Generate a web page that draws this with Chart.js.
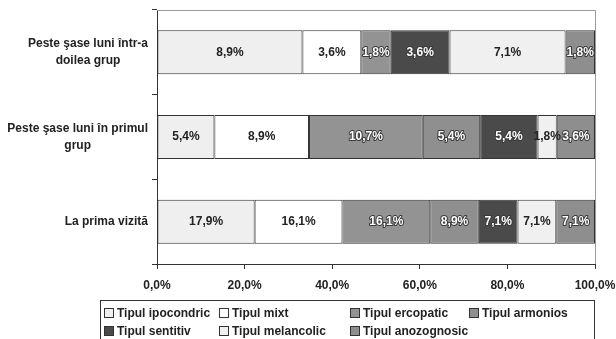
<!DOCTYPE html>
<html lang="ro">
<head>
<meta charset="utf-8">
<script src="https://cdn.jsdelivr.net/npm/chart.js@4/dist/chart.umd.min.js"></script>
<style>
  html, body { margin: 0; padding: 0; background: #fff; }
  #wrap { position: relative; width: 616px; height: 339px; overflow: hidden; }
  canvas { position: absolute; left: 0; top: 0; }
  #legend {
    position: absolute; left: 100px; top: 300px; width: 495px; height: 50px;
    border: 1px solid #333; box-sizing: border-box;
    font: bold 12px "Liberation Sans", Arial, sans-serif; color: #222;
  }
  .item { position: absolute; white-space: nowrap; line-height: 14px; }
  .sw { display: inline-block; width: 8px; height: 8px; border: 1px solid #333;
        margin-right: 3px; vertical-align: -1px; }
</style>
</head>
<body>
<div id="wrap">
  <canvas id="chart" width="616" height="339"></canvas>
  <div id="legend"></div>
</div>
<script>
// Groups (top to bottom) and percentage of patients per personality type
const categories = [
  ["Peste şase luni într-a", "doilea grup"],
  ["Peste şase luni în primul", "grup"],
  ["La prima vizită"]
];
const seriesNames = [
  "Tipul ipocondric", "Tipul mixt", "Tipul ercopatic", "Tipul armonios",
  "Tipul sentitiv", "Tipul melancolic", "Tipul anozognosic"
];
const ipocondric  = [8.9, 5.4, 17.9];
const mixt        = [3.6, 8.9, 16.1];
const ercopatic   = [1.8, 10.7, 16.1];
const armonios    = [null, 5.4, 8.9];
const sentitiv    = [3.6, 5.4, 7.1];
const melancolic  = [7.1, 1.8, 7.1];
const anozognosic = [1.8, 3.6, 7.1];
const xTickLabels = ["0,0%", "20,0%", "40,0%", "60,0%", "80,0%", "100,0%"];

const seriesValues = [ipocondric, mixt, ercopatic, armonios, sentitiv, melancolic, anozognosic];
const fills = ["#efefef", "#ffffff", "#939393", "#8f8f8f", "#4a4a4a", "#f0f0f0", "#8e8e8e"];
const darkFill = [false, false, true, true, true, false, true];

// each bar is shown as a 100% stack: share of the row total
const rowTotals = categories.map((_, r) =>
  seriesValues.reduce((s, arr) => s + (arr[r] || 0), 0));

const datasets = seriesNames.map((name, i) => ({
  label: name,
  raw: seriesValues[i],
  data: seriesValues[i].map((v, r) => v == null ? null : v / rowTotals[r] * 100),
  backgroundColor: fills[i],
  borderColor: "#333",
  borderWidth: 1,
  borderSkipped: false,
  barPercentage: 0.52,
  categoryPercentage: 1.0
}));

const FONT = '"Liberation Sans", Arial, sans-serif';
const fmt = v => v.toFixed(1).replace(".", ",") + "%";

const decorPlugin = {
  id: "decor",
  afterDraw(chart) {
    const ctx = chart.ctx;
    const a = chart.chartArea;
    // frame top and right
    ctx.save();
    ctx.strokeStyle = "#9a9a9a";
    ctx.lineWidth = 1;
    ctx.beginPath();
    ctx.moveTo(a.left, a.top + 0.5); ctx.lineTo(a.right + 0.5, a.top + 0.5);
    ctx.lineTo(a.right + 0.5, a.bottom);
    ctx.stroke();
    ctx.restore();

    // category labels: each block right-aligned, lines centred within it
    const ys = chart.scales.y;
    ctx.save();
    ctx.font = "bold 12px " + FONT;
    ctx.fillStyle = "#222";
    ctx.textAlign = "center";
    ctx.textBaseline = "middle";
    const lh = 17;
    categories.forEach((lines, i) => {
      const cy = ys.getPixelForTick(i);
      const w = Math.max(...lines.map(l => ctx.measureText(l).width));
      const cx = 148 - w / 2;
      const y0 = cy - (lines.length - 1) * lh / 2;
      lines.forEach((l, k) => ctx.fillText(l, cx, y0 + k * lh));
    });
    ctx.restore();

    // value labels inside the segments
    ctx.save();
    ctx.font = "bold 12px " + FONT;
    ctx.textAlign = "center";
    ctx.textBaseline = "middle";
    ctx.lineJoin = "round";
    chart.data.datasets.forEach((ds, i) => {
      const meta = chart.getDatasetMeta(i);
      meta.data.forEach((bar, r) => {
        const v = ds.raw[r];
        if (v == null) return;
        const x = (bar.x + bar.base) / 2;
        const t = fmt(v);
        if (darkFill[i]) {
          ctx.strokeStyle = "#3a3a3a";
          ctx.lineWidth = 2;
          ctx.strokeText(t, x, bar.y);
          ctx.fillStyle = "#ffffff";
        } else {
          ctx.fillStyle = "#222";
        }
        ctx.fillText(t, x, bar.y);
      });
    });
    ctx.restore();
  }
};

new Chart(document.getElementById("chart"), {
  type: "bar",
  data: { labels: categories.map(l => l.join(" ")), datasets },
  plugins: [decorPlugin],
  options: {
    indexAxis: "y",
    responsive: false,
    animation: false,
    devicePixelRatio: 1,
    layout: { padding: { top: 10, right: 21, left: 0, bottom: 0 } },
    plugins: { legend: { display: false }, tooltip: { enabled: false } },
    scales: {
      x: {
        stacked: true,
        min: 0, max: 100,
        afterFit(s) { s.height = 75; s.paddingLeft = 0; s.paddingRight = 0; },
        afterBuildTicks(s) {
          s.ticks = xTickLabels.map((_, k) => ({ value: k * 20 }));
        },
        ticks: {
          callback: (v, k) => xTickLabels[k],
          font: { family: FONT, size: 12, weight: "bold" },
          color: "#222",
          padding: 9,
          maxRotation: 0
        },
        grid: { drawOnChartArea: false, drawTicks: true, tickLength: 5, color: "#333" },
        border: { color: "#333", width: 1 }
      },
      y: {
        stacked: true,
        afterFit(s) { s.width = 157; },
        ticks: { display: false },
        grid: { offset: true, drawOnChartArea: false, drawTicks: true, tickLength: 5, color: "#333" },
        border: { color: "#333", width: 1 }
      }
    }
  }
});

// legend, two rows in four columns
const legend = document.getElementById("legend");
const cols = [3, 118, 249, 368];
seriesNames.forEach((name, i) => {
  const d = document.createElement("div");
  d.className = "item";
  d.style.left = cols[i % 4] + "px";
  d.style.top = (i < 4 ? 5 : 23) + "px";
  const sw = document.createElement("span");
  sw.className = "sw";
  sw.style.background = fills[i];
  d.appendChild(sw);
  d.appendChild(document.createTextNode(name));
  legend.appendChild(d);
});
</script>
</body>
</html>
